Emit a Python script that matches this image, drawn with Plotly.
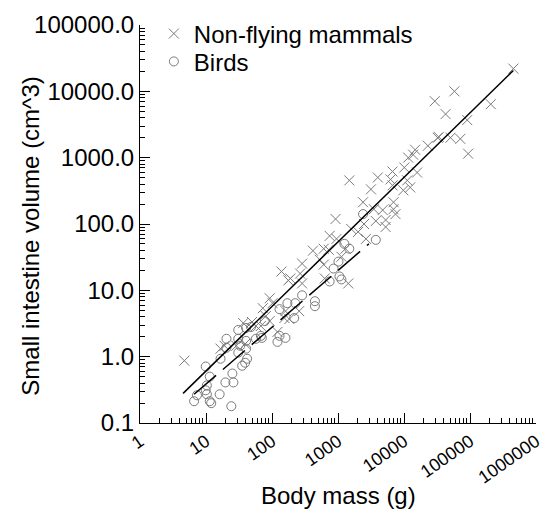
import math
import plotly.graph_objects as go

# ---------------- data ----------------
mammal_mass = [4.7, 16.6, 19.1, 36.6, 49.8, 57.1, 67.8, 72.6, 80.5, 92.3,
               39.2, 92.3, 102, 121, 139, 177, 160, 154, 183, 258,
               267, 286, 286, 530, 608, 629, 190, 417, 608, 722,
               747, 950, 918, 1127, 1294, 1432, 1588, 2018, 2655, 2397,
               2479, 3495, 3742, 4753, 1483, 3155, 4009, 6700, 6255, 6700,
               10110, 11200, 12420, 9770, 15780, 11590, 13770, 14750, 23020, 32440,
               6937, 6937, 7430, 5272, 5272, 454000, 58080, 29260, 42660, 206500,
               90740, 33570, 50600, 71300, 93800, 28.8]
mammal_volume = [0.87, 1.32, 1.46, 3.21, 3.33, 2.90, 2.90, 5.38, 4.09, 3.44,
                 1.56, 7.60, 6.40, 2.36, 19.2, 14.1, 4.86, 3.82, 3.69, 4.86,
                 17.9, 12.7, 25.3, 29.0, 24.4, 15.1, 15.1, 39.6, 42.4, 40.9,
                 66.2, 59.7, 119, 32.1, 42.4, 12.7, 84.1, 76.0, 59.7, 213,
                 100, 167, 111, 162, 454, 333, 503, 618, 470, 382,
                 710, 454, 356, 322, 597, 1000, 1109, 1316, 1510, 1990,
                 213, 167, 141, 115, 90.2, 22000, 10000, 7100, 4540, 6400,
                 3690, 2057, 2000, 1921, 1148, 1.46]

bird_mass = [6.6, 7.3, 9.9, 11.4, 10.3, 9.9, 10.3, 11.4, 12.0, 16.1,
             19.7, 26.0, 25.1, 24.2, 16.6, 20.4, 20.4, 30.8, 30.8, 35.3,
             39.2, 42.0, 30.8, 40.5, 40.5, 57.1, 70.2, 48.1, 77.8, 67.8,
             130, 160, 121, 33.0, 40.5, 171, 225, 286, 447, 447,
             217, 130, 2397, 3742, 1250, 1016, 857, 1052, 1127, 747, 1483]
bird_volume = [0.213, 0.262, 0.71, 0.50, 0.369, 0.311, 0.271, 0.213, 0.199, 0.271,
               0.409, 0.409, 0.557, 0.179, 0.93, 1.86, 1.36, 2.53, 1.86, 0.73,
               0.81, 0.93, 1.15, 1.32, 1.73, 1.86, 1.92, 2.80, 3.44, 2.06,
               2.06, 1.92, 1.67, 1.46, 2.71, 6.40, 6.40, 8.41, 6.86, 5.77,
               3.82, 5.20, 141, 57.7, 50.2, 27.1, 21.3, 16.2, 14.6, 13.6, 42.4]

# regression fits: log10(V) = a + b*log10(M), over a mass range
mammal_fit = [-1.189, 0.973]
mammal_range = [4.5, 454000]
bird_fit = [-1.268, 0.856]
bird_range = [6.6, 2940]

x_tickvals = [1, 10, 100, 1000, 10000, 100000, 1000000]
x_ticktext = ["1", "10", "100", "1000", "10000", "100000", "1000000"]
y_tickvals = [0.1, 1, 10, 100, 1000, 10000, 100000]
y_ticktext = ["0.1", "1.0", "10.0", "100.0", "1000.0", "10000.0", "100000.0"]

# ---------------- figure ----------------
FONT = "Arial, Liberation Sans, Helvetica, sans-serif"
GREY = "#7a7a7a"


def fit_line(fit, rng):
    xs = list(rng)
    ys = [10 ** (fit[0] + fit[1] * math.log10(v)) for v in xs]
    return xs, ys


fig = go.Figure()
fig.add_trace(go.Scatter(
    x=mammal_mass, y=mammal_volume, mode="markers", name="Non-flying mammals",
    legend="legend",
    marker=dict(symbol="x-thin-open", size=10, color=GREY,
                line=dict(color=GREY, width=1)),
))
fig.add_trace(go.Scatter(
    x=bird_mass, y=bird_volume, mode="markers", name="Birds",
    legend="legend2",
    marker=dict(symbol="circle-open", size=9, color=GREY,
                line=dict(color=GREY, width=1)),
))
mx, my = fit_line(mammal_fit, mammal_range)
fig.add_trace(go.Scatter(x=mx, y=my, mode="lines", showlegend=False,
                         line=dict(color="black", width=1.5)))
bx, by = fit_line(bird_fit, bird_range)
fig.add_trace(go.Scatter(x=bx, y=by, mode="lines", showlegend=False,
                         line=dict(color="black", width=1.5, dash="29px,9px")))


def minor_vals(lo, hi):
    out = []
    for d in range(lo, hi):
        for k in range(2, 10):
            out.append(k * 10.0 ** d)
    return out


axis_common = dict(
    type="log", showline=True, linecolor="black", linewidth=1,
    ticks="inside", ticklen=10, tickwidth=1, tickcolor="black",
    showgrid=False, zeroline=False, mirror=False,
)

fig.update_xaxes(
    **axis_common, range=[0, 6], tickmode="array",
    tickvals=x_tickvals, ticktext=x_ticktext, tickangle=-35,
    tickfont=dict(family=FONT, size=18, color="black"),
    minor=dict(ticks="inside", ticklen=5, tickwidth=1, tickcolor="black",
               tickmode="array", tickvals=minor_vals(0, 6), showgrid=False),
)
fig.update_yaxes(
    **axis_common, range=[-1, 5], tickmode="array",
    tickvals=y_tickvals, ticktext=y_ticktext,
    tickfont=dict(family=FONT, size=24, color="black"),
    minor=dict(ticks="inside", ticklen=5, tickwidth=1, tickcolor="black",
               tickmode="array", tickvals=minor_vals(-1, 5), showgrid=False),
)

legend_style = dict(xanchor="left", yanchor="top", bgcolor="rgba(0,0,0,0)",
                    font=dict(family=FONT, size=24), itemsizing="trace")

fig.update_layout(
    width=554, height=511,
    margin=dict(l=140, r=11, t=21, b=88),
    plot_bgcolor="white", paper_bgcolor="white",
    font=dict(family=FONT, color="black"),
    legend=dict(x=0.035, y=1.034, **legend_style),
    legend2=dict(x=0.035, y=0.964, **legend_style),
    annotations=[
        dict(text="Body mass (g)", xref="paper", yref="paper",
             x=0.5, y=-0.182, xanchor="center", yanchor="middle",
             showarrow=False, font=dict(family=FONT, size=24)),
        dict(text="Small intestine volume (cm^3)", xref="paper", yref="paper",
             x=-0.276, y=0.47, xanchor="center", yanchor="middle",
             textangle=-90, showarrow=False, font=dict(family=FONT, size=24)),
    ],
)

fig.write_html("out.html", config={"displayModeBar": False},
               post_script="document.body.style.margin='0';")
